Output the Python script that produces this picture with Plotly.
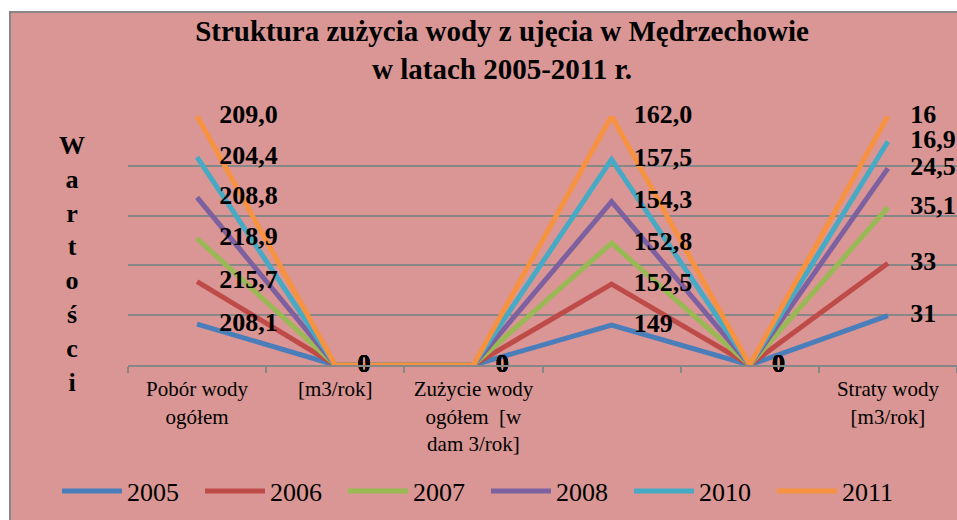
import numpy as np
import plotly.graph_objects as go

# ---- data ----
categories = ["Pobór wody<br>ogółem", "[m3/rok]", "Zużycie wody<br>ogółem  [w<br>dam 3/rok]",
              " ", "  ", "Straty wody<br>[m3/rok]"]
years = ["2005", "2006", "2007", "2008", "2010", "2011"]

v2005 = [208.1, 0, 0, 149.0, 0, 31.0]
v2006 = [215.7, 0, 0, 152.5, 0, 33.0]
v2007 = [218.9, 0, 0, 152.8, 0, 35.1]
v2008 = [208.8, 0, 0, 154.3, 0, 24.5]
v2010 = [204.4, 0, 0, 157.5, 0, 16.9]
v2011 = [209.0, 0, 0, 162.0, 0, 16.0]

labels_2005 = ["208,1", "0", "0", "149", "0", "31"]
labels_2006 = ["215,7", "0", "0", "152,5", "0", "33"]
labels_2007 = ["218,9", "0", "0", "152,8", "0", "35,1"]
labels_2008 = ["208,8", "0", "0", "154,3", "0", "24,5"]
labels_2010 = ["204,4", "0", "0", "157,5", "0", "16,9"]
labels_2011 = ["209,0", "0", "0", "162,0", "0", "16"]

series = [v2005, v2006, v2007, v2008, v2010, v2011]
labels = [labels_2005, labels_2006, labels_2007, labels_2008, labels_2010, labels_2011]
colors = ["#4A7EBB", "#BE4B48", "#98B954", "#7D60A0", "#46AAC5", "#F69240"]

# 100% stacked line: cumulative share per category
vals = np.array(series, dtype=float)
totals = vals.sum(axis=0)
cum = np.cumsum(vals, axis=0)
pct = np.where(totals > 0, cum / np.where(totals > 0, totals, 1) * 100, 0.0)

SERIF = "Liberation Serif, Times New Roman, serif"
PINK = "#D99694"
GRAY = "#878787"

W, H = 957, 520
L, R, T, B = 128, 0, 116, 155
pw, ph = W - L - R, H - T - B

def px_x(px):
    return (px - L) / pw

def px_y(py):
    return (H - B - py) / ph

fig = go.Figure()
# lines first
for i, yr in enumerate(years):
    fig.add_trace(go.Scatter(
        x=categories, y=pct[i], name=yr,
        mode="lines",
        line=dict(color=colors[i], width=5),
        cliponaxis=False,
    ))
# data labels on top of all lines
for i, yr in enumerate(years):
    fig.add_trace(go.Scatter(
        x=categories, y=pct[i], name=yr, showlegend=False,
        mode="markers+text",
        text=labels[i], textposition="middle right",
        textfont=dict(family=SERIF, size=26, color="black", weight="bold"),
        marker=dict(size=34, opacity=0, color="rgba(0,0,0,0)", line=dict(width=0)),
        cliponaxis=False, hoverinfo="skip",
    ))

fig.update_layout(
    width=W, height=H,
    margin=dict(l=L, r=R, t=T, b=B),
    paper_bgcolor="white",
    plot_bgcolor="rgba(0,0,0,0)",
    font=dict(family=SERIF, color="black"),
    title=dict(
        text="<b>Struktura zużycia wody z ujęcia w Mędrzechowie<br>w latach 2005-2011 r.</b>",
        font=dict(family=SERIF, size=29, color="black"),
        xref="container", yref="container",
        x=502 / W, xanchor="center", y=1 - 41 / H, yanchor="middle",
    ),
    xaxis=dict(
        type="category", showgrid=False, showline=True, linecolor=GRAY, linewidth=2,
        ticks="outside", ticklen=6, tickcolor=GRAY, tickwidth=2, tickson="boundaries",
        tickfont=dict(family=SERIF, size=21, color="black"), ticklabelstandoff=4,
        range=[-0.5, 5.5], zeroline=False, fixedrange=True,
    ),
    yaxis=dict(
        range=[0, 100], dtick=20, showticklabels=False, showgrid=True,
        gridcolor=GRAY, gridwidth=2, zeroline=False, showline=False, ticks="",
        fixedrange=True,
    ),
    showlegend=True,
    legend=dict(
        orientation="h", x=px_x(57), xanchor="left", y=px_y(491), yanchor="middle",
        font=dict(family=SERIF, size=26, color="black"),
        entrywidth=68, entrywidthmode="pixels", itemwidth=60,
        bgcolor="rgba(0,0,0,0)",
    ),
    shapes=[dict(
        type="rect", xref="paper", yref="paper", layer="below",
        x0=px_x(10), x1=px_x(965), y0=px_y(530), y1=px_y(12),
        fillcolor=PINK, line=dict(color=GRAY, width=2),
    )],
    annotations=[dict(
        text="<b>W<br>a<br>r<br>t<br>o<br>ś<br>c<br>i</b>",
        xref="paper", yref="paper", x=px_x(72), y=px_y(264),
        xanchor="center", yanchor="middle", showarrow=False,
        font=dict(family=SERIF, size=26, color="black"),
    )],
)

fig.write_html(
    "out.html",
    config={"displayModeBar": False},
    post_script="document.body.style.margin='0px';"
                "document.documentElement.style.overflow='hidden';"
                "document.body.style.overflow='hidden';",
)
